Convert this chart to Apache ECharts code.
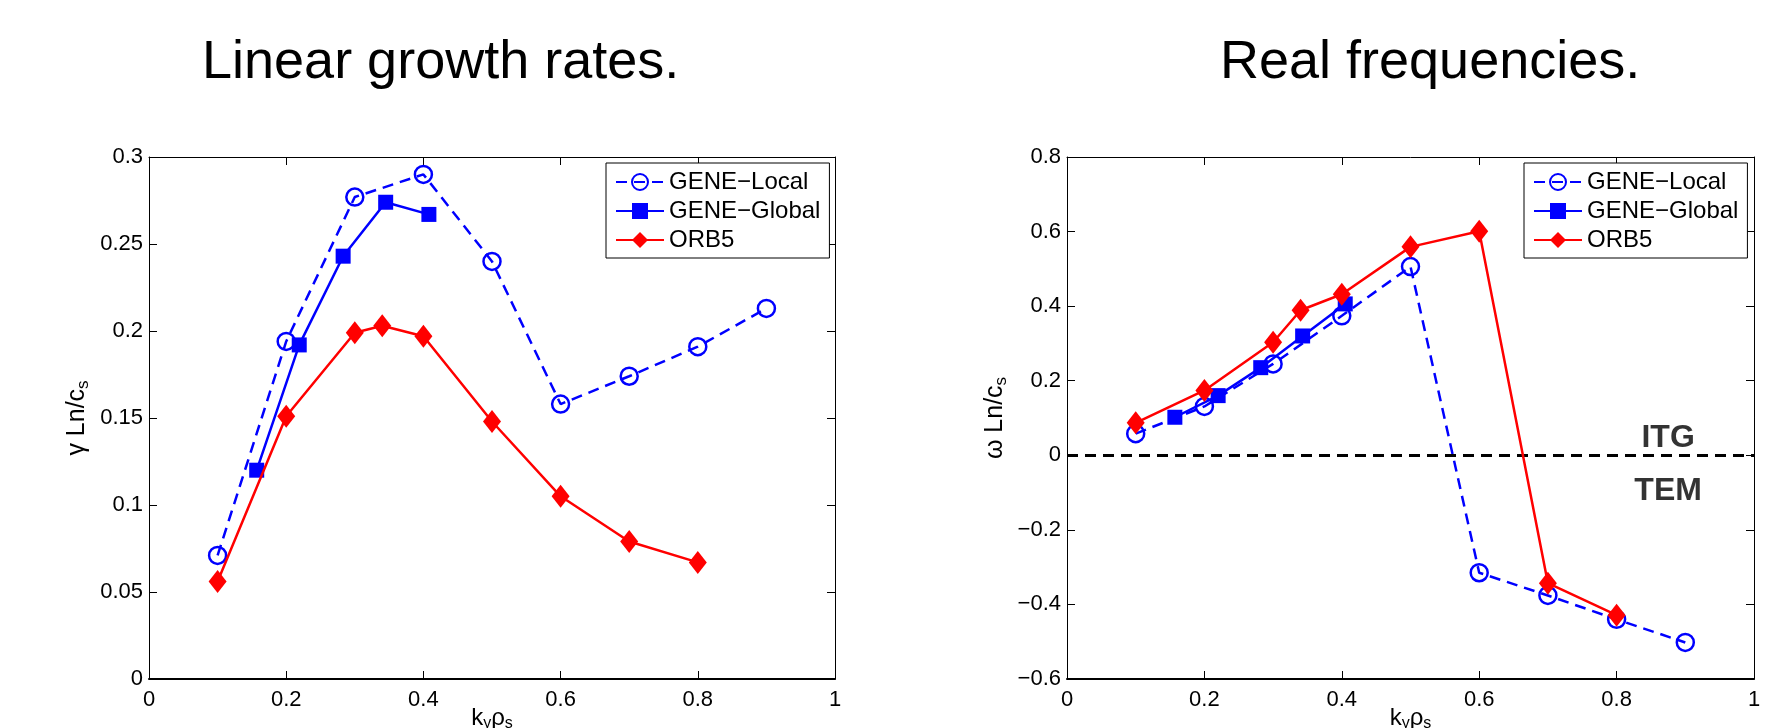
<!DOCTYPE html>
<html>
<head>
<meta charset="utf-8">
<script src="https://cdn.jsdelivr.net/npm/echarts@6/dist/echarts.min.js"></script>
<style>
html,body{margin:0;padding:0;background:#fff;}
#chart{width:1784px;height:728px;}
</style>
</head>
<body>
<div id="chart"></div>
<script>
// ---- data ----
const seriesNames = ['GENE\u2212Local', 'GENE\u2212Global', 'ORB5'];
const xTicks = [0, 0.2, 0.4, 0.6, 0.8, 1];

// Left panel: linear growth rates
const xLocalG = [0.1, 0.2, 0.3, 0.4, 0.5, 0.6, 0.7, 0.8, 0.9];
const gammaLocal = [0.071, 0.194, 0.277, 0.290, 0.240, 0.158, 0.174, 0.191, 0.213];
const xGlobalG = [0.157, 0.219, 0.283, 0.345, 0.408];
const gammaGlobal = [0.120, 0.192, 0.243, 0.274, 0.267];
const xOrb5G = [0.1, 0.2, 0.3, 0.34, 0.4, 0.5, 0.6, 0.7, 0.8];
const gammaOrb5 = [0.056, 0.151, 0.199, 0.203, 0.197, 0.148, 0.105, 0.079, 0.067];

// Right panel: real frequencies
const xLocalW = [0.1, 0.2, 0.3, 0.4, 0.5, 0.6, 0.7, 0.8, 0.9];
const omegaLocal = [0.058, 0.131, 0.245, 0.374, 0.506, -0.315, -0.376, -0.440, -0.502];
const xGlobalW = [0.157, 0.220, 0.282, 0.343, 0.405];
const omegaGlobal = [0.102, 0.160, 0.235, 0.320, 0.406];
const xOrb5W = [0.1, 0.2, 0.3, 0.34, 0.4, 0.5, 0.6, 0.7, 0.8];
const omegaOrb5 = [0.087, 0.174, 0.303, 0.389, 0.432, 0.559, 0.601, -0.343, -0.429];

// Annotations on the right panel
const regionLabels = ['ITG', 'TEM'];
const regionX = [0.875, 0.875];
const regionY = [0.046, -0.096];

// ---- helpers ----
const FONT = 'Liberation Sans, Arial, Helvetica, sans-serif';
const BLUE = '#0000ff';
const RED = '#ff0000';
const zip = (xs, ys) => xs.map((x, i) => [x, ys[i]]);
const fmtNum = v => String(Math.round(v * 1000) / 1000).replace('-', '\u2212');

const grids = [
  { left: 149, top: 157, width: 686, height: 522, outerBoundsMode: 'none', containLabel: false },
  { left: 1067, top: 157, width: 687, height: 522, outerBoundsMode: 'none', containLabel: false }
];

function xAxes(gi) {
  const base = {
    type: 'value', gridIndex: gi, min: 0, max: 1, interval: 0.2,
    splitLine: { show: false },
    axisTick: { inside: true, length: 8, lineStyle: { color: '#000', width: 1 } }
  };
  return [
    Object.assign({}, base, {
      position: 'bottom',
      axisLine: { onZero: false, lineStyle: { color: '#000', width: 2 } },
      axisLabel: { color: '#000', fontSize: 22, fontFamily: FONT, margin: 10, formatter: fmtNum },
      name: 'k{sub|y}\u03c1{sub|s}', nameLocation: 'middle', nameGap: 27, nameMoveOverlap: false,
      nameTextStyle: { color: '#000', fontSize: 24, fontFamily: FONT, lineHeight: 24,
        rich: { sub: { fontSize: 16, fontFamily: FONT, color: '#000', lineHeight: 24, padding: [12, 0, 0, 0] } } }
    }),
    Object.assign({}, base, {
      position: 'top',
      axisLine: { onZero: false, lineStyle: { color: '#000', width: 1 } },
      axisLabel: { show: false }
    })
  ];
}

function yAxes(gi, min, max, interval, nameMain) {
  const base = {
    type: 'value', gridIndex: gi, min: min, max: max, interval: interval,
    splitLine: { show: false },
    axisTick: { inside: true, length: 8, lineStyle: { color: '#000', width: 1 } }
  };
  return [
    Object.assign({}, base, {
      position: 'left',
      axisLine: { onZero: false, lineStyle: { color: '#000', width: 1 } },
      axisLabel: { color: '#000', fontSize: 22, fontFamily: FONT, margin: 6, formatter: fmtNum },
      name: nameMain + ' Ln/c{sub|s}', nameLocation: 'middle', nameGap: 57, nameRotate: 90,
      nameMoveOverlap: false,
      nameTextStyle: { color: '#000', fontSize: 25, fontFamily: FONT,
        rich: { sub: { fontSize: 17, fontFamily: FONT, color: '#000', padding: [12, 0, 0, 0] } } }
    }),
    Object.assign({}, base, {
      position: 'right',
      axisLine: { onZero: false, lineStyle: { color: '#000', width: 1 } },
      axisLabel: { show: false }
    })
  ];
}

function panelSeries(xi, yi, loc, glob, orb) {
  return [
    {
      name: seriesNames[0], type: 'line', xAxisIndex: xi, yAxisIndex: yi,
      data: loc, symbol: 'circle', symbolSize: 17,
      itemStyle: { color: 'rgba(255,255,255,0)', borderColor: BLUE, borderWidth: 2.5 },
      lineStyle: { color: BLUE, width: 2.5, type: [11, 7] },
      emphasis: { disabled: true }, animation: false, z: 3
    },
    {
      name: seriesNames[1], type: 'line', xAxisIndex: xi, yAxisIndex: yi,
      data: glob, symbol: 'rect', symbolSize: 15,
      itemStyle: { color: BLUE },
      lineStyle: { color: BLUE, width: 2.5 },
      emphasis: { disabled: true }, animation: false, z: 4
    },
    {
      name: seriesNames[2], type: 'line', xAxisIndex: xi, yAxisIndex: yi,
      data: orb, symbol: 'diamond', symbolSize: [18, 23],
      itemStyle: { color: RED },
      lineStyle: { color: RED, width: 2.5 },
      emphasis: { disabled: true }, animation: false, z: 5
    }
  ];
}

function legendAt(left) {
  return {
    orient: 'vertical', left: left, top: 163,
    data: seriesNames,
    itemWidth: 48, itemHeight: 20, itemGap: 5,
    padding: [7, 9, 6, 9],
    borderColor: '#000', borderWidth: 1, backgroundColor: '#fff',
    textStyle: { color: '#000', fontSize: 24, fontFamily: FONT },
    selectedMode: false
  };
}

const leftSeries = panelSeries(0, 0, zip(xLocalG, gammaLocal), zip(xGlobalG, gammaGlobal), zip(xOrb5G, gammaOrb5));
const rightSeries = panelSeries(2, 2, zip(xLocalW, omegaLocal), zip(xGlobalW, omegaGlobal), zip(xOrb5W, omegaOrb5));
// zero reference line on the right panel
rightSeries[0].markLine = {
  silent: true, symbol: 'none', animation: false,
  label: { show: false },
  lineStyle: { color: '#000', width: 3, type: [11, 7] },
  data: [{ yAxis: 0 }]
};

const annotation = {
  name: 'regions', type: 'scatter', xAxisIndex: 2, yAxisIndex: 2,
  data: regionLabels.map((t, i) => ({ name: t, value: [regionX[i], regionY[i]] })),
  symbolSize: 0, silent: true, animation: false,
  label: { show: true, position: 'inside', formatter: '{b}', color: '#000',
    fontSize: 32, fontWeight: 'bold', fontFamily: FONT }
};

const option = {
  backgroundColor: '#fff',
  animation: false,
  title: [
    { text: 'Linear growth rates.', left: 202, top: 36, padding: 0,
      textStyle: { fontSize: 54, fontWeight: 'normal', fontFamily: FONT, color: '#000' } },
    { text: 'Real frequencies.', left: 1220, top: 36, padding: 0,
      textStyle: { fontSize: 54, fontWeight: 'normal', fontFamily: FONT, color: '#000' } }
  ],
  grid: grids,
  legend: [legendAt(606), legendAt(1524)],
  xAxis: xAxes(0).concat(xAxes(1)),
  yAxis: yAxes(0, 0, 0.3, 0.05, '\u03b3').concat(yAxes(1, -0.6, 0.8, 0.2, '\u03c9')),
  series: leftSeries.concat(rightSeries, [annotation])
};

const chart = echarts.init(document.getElementById('chart'), null, { renderer: 'canvas' });
chart.setOption(option);
</script>
</body>
</html>
